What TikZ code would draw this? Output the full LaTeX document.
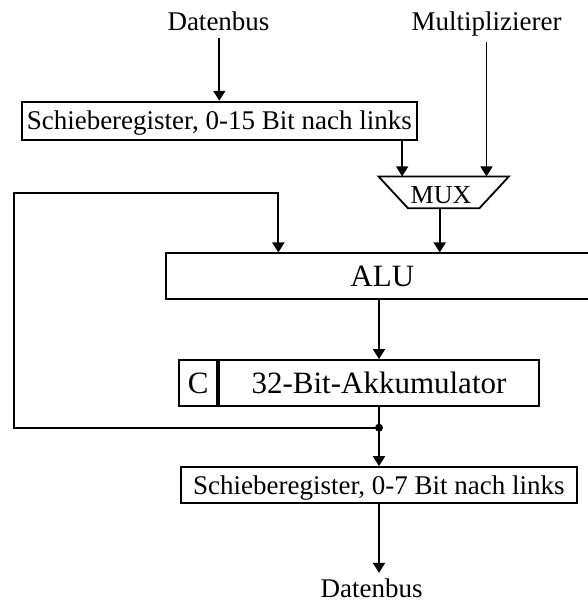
\documentclass[tikz,border=0pt]{standalone}
\usepackage{fontspec}
\setmainfont{Liberation Serif}
\usetikzlibrary{arrows.meta}
\begin{document}
\begin{tikzpicture}[x=1pt,y=-1pt,
  line width=1.8pt,
  flow/.style={-{Triangle[length=10pt,width=12pt]}},
  smallfont/.style={font=\fontsize{27}{30}\selectfont},
  bigfont/.style={font=\fontsize{31}{34}\selectfont},
  iolabel/.style={smallfont,inner sep=6pt},
  regbox/.style={draw,inner sep=0pt,text height=18pt,text depth=0pt},
  bigbox/.style={draw,inner sep=0pt,bigfont,text height=20.5pt,text depth=0pt},
  junction/.style={circle,fill,inner sep=0pt,minimum size=8pt}]
\clip (0,0) rectangle (588,603);

% inputs
\node[iolabel,anchor=base] (dtop) at (218.5,30.7) {Datenbus};
\node[iolabel,anchor=base,inner sep=5pt] (mul) at (486.5,30.7) {Multiplizierer};

% 0-15 bit shifter
\node[regbox,smallfont,minimum width=395.3pt,minimum height=38.3pt]
  (sr1) at (219.3,120.8) {Schieberegister, 0-15 Bit nach links};

% multiplexer: trapezium drawn on a plain node frame
\node[font=\fontsize{26}{28}\selectfont,inner sep=0pt,minimum width=128.7pt,
  minimum height=30pt,text height=17.3pt,text depth=0pt]
  (mux) at (443.7,192.3) {\kern-5.4pt\raisebox{-3pt}{MUX}};
\draw (mux.north west) -- (mux.north east)
  -- ([xshift=-29.5pt]mux.south east) -- ([xshift=29.5pt]mux.south west) -- cycle;

% ALU (runs past the right edge)
\node[bigbox,minimum width=433.3pt,minimum height=45.7pt]
  (alu) at (382.3,276.2) {ALU};

% accumulator with carry cell
\node[bigbox,minimum width=320pt,minimum height=46pt]
  (acc) at (379,383) {32-Bit-Akkumulator};
\node[bigbox,minimum width=38pt,minimum height=46pt,anchor=east]
  (carry) at (acc.west) {C};

% 0-7 bit shifter
\node[regbox,smallfont,minimum width=395.7pt,minimum height=36.3pt]
  (sr2) at (378.9,485.2) {Schieberegister, 0-7 Bit nach links};

% output
\node[iolabel,anchor=base,inner sep=0.5pt] (dbot) at (371.7,597) {Datenbus};
\coordinate (dbotin) at ([yshift=4pt]dbot.north);

% branch point of the feedback
\node[junction] (j) at (379,427.7) {};
\coordinate (fbcorner) at (14,193.3);

% connections
\draw[flow] (dtop.south -| sr1.north) -- (sr1.north);
\draw[flow] ([xshift=-15.7pt]sr1.south east) -- ([xshift=-15.7pt]sr1.south east |- mux.north);
\draw[flow] (mul.south) -- (mul.south |- mux.north);
\draw[flow] ([xshift=-4pt]mux.south) -- ([xshift=-4pt]mux.south |- alu.north);
\draw[flow] (acc.north |- alu.south) -- (acc.north);
\draw[flow] (acc.south) -- (j.center) -- (sr2.north -| j.center);
\draw[flow] (j.center) -| (fbcorner) -| ([xshift=113.6pt]alu.north west);
\draw[flow] (sr2.south -| j.center) -- (dbotin -| j.center);
\end{tikzpicture}
\end{document}
